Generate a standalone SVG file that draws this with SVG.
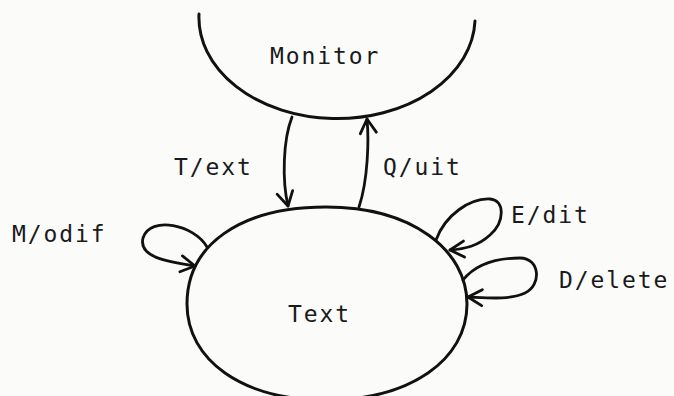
<svg xmlns="http://www.w3.org/2000/svg" width="674" height="396" viewBox="0 0 674 396">
  <style>
    .lbl { font-family: "DejaVu Sans Mono", "Liberation Mono", monospace; font-size: 23px; letter-spacing: 1.9px; fill: #1a1a1a; }
    .shape { fill: none; stroke: #111; stroke-width: 3; stroke-linecap: round; }
    .edge { fill: none; stroke: #111; stroke-width: 2.8; stroke-linecap: round; }
  </style>
  <defs>
    <marker id="arr" viewBox="-16 -10 18 20" markerWidth="18" markerHeight="20" refX="0" refY="0" markerUnits="userSpaceOnUse" orient="auto">
      <path d="M-14,-8 L0,0 L-14,8" fill="none" stroke="#111" stroke-width="2.8" stroke-linecap="round" stroke-linejoin="round"/>
    </marker>
  </defs>
  <rect width="674" height="396" fill="#fbfcfa"/>

  <g id="monitor">
    <path class="shape" d="M199,14 A138,101 0 0 0 475,21"/>
    <text class="lbl" x="270" y="64">Monitor</text>
  </g>

  <g id="text-node">
    <path class="shape" d="M187,304 C187,245 240,207 326,207 C412,207 467,250 467,304 C467,360 410,400 326,400 C242,400 187,360 187,304 Z"/>
    <text class="lbl" x="288" y="322">Text</text>
  </g>

  <g id="connectors">
    <path class="edge" d="M292,117 C283,140 282,180 288,206" marker-end="url(#arr)"/>
    <path class="edge" d="M359,207 C368,180 369,140 367,119" marker-end="url(#arr)"/>
    <path class="edge" d="M207,247 C195,225 150,215 143,238 C138,258 170,262 195,266" marker-end="url(#arr)"/>
    <path class="edge" d="M436,240 C445,215 470,198 490,199 C505,200 505,222 490,235 C478,246 465,249 450,250" marker-end="url(#arr)"/>
    <path class="edge" d="M463,280 C475,265 495,258 520,258 C540,258 542,285 525,293 C510,300 490,298 468,297" marker-end="url(#arr)"/>
  </g>

  <g id="labels">
    <text class="lbl" x="174" y="175">T/ext</text>
    <text class="lbl" x="383" y="175">Q/uit</text>
    <text class="lbl" x="12" y="242">M/odif</text>
    <text class="lbl" x="511" y="223">E/dit</text>
    <text class="lbl" x="559" y="288">D/elete</text>
  </g>
</svg>
